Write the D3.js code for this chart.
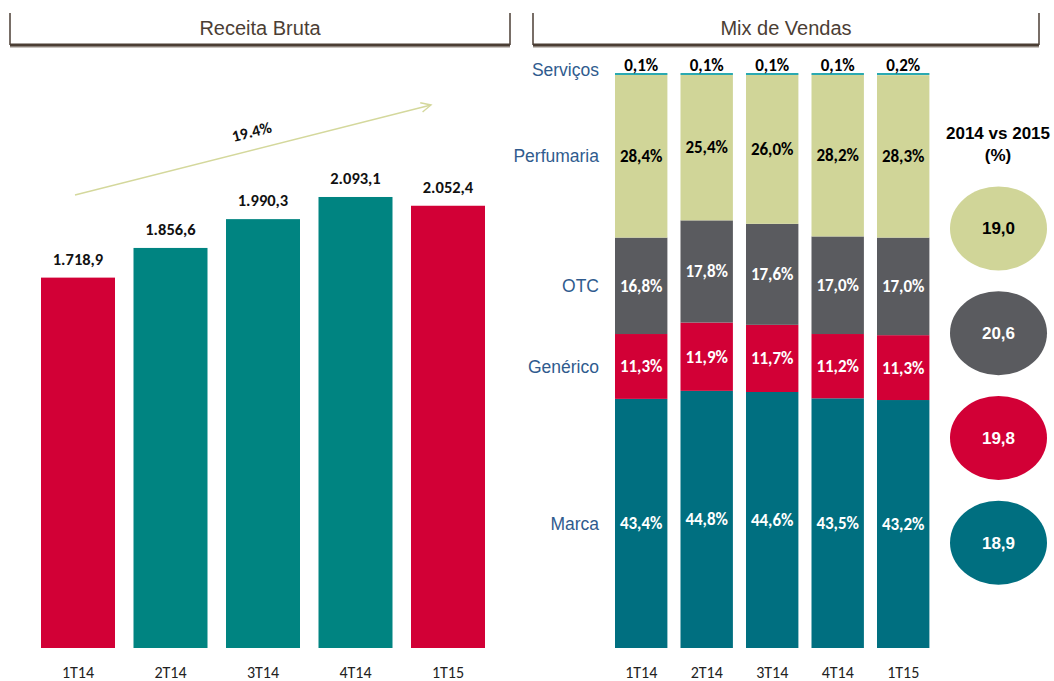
<!DOCTYPE html>
<html>
<head>
<meta charset="utf-8">
<script src="https://cdn.jsdelivr.net/npm/d3@7"></script>
<style>
  html, body { margin: 0; padding: 0; background: #ffffff; }
  svg { display: block; }
</style>
</head>
<body>
<svg id="chart" width="1054" height="681"></svg>
<script>
// ---------------- DATA ----------------
const quarters = ["1T14", "2T14", "3T14", "4T14", "1T15"];
const receitaBruta = [1718.9, 1856.6, 1990.3, 2093.1, 2052.4];
const highlightedQuarters = ["1T14", "1T15"];
const growthLabel = "19.4%";

const mixCategories = ["Marca", "Genérico", "OTC", "Perfumaria", "Serviços"];
const marca      = [43.4, 44.8, 44.6, 43.5, 43.2];
const generico   = [11.3, 11.9, 11.7, 11.2, 11.3];
const otc        = [16.8, 17.8, 17.6, 17.0, 17.0];
const perfumaria = [28.4, 25.4, 26.0, 28.2, 28.3];
const servicos   = [0.1, 0.1, 0.1, 0.1, 0.2];

const growthCategories = ["Perfumaria", "OTC", "Genérico", "Marca"];
const growthValues = [19.0, 20.6, 19.8, 18.9];

// ---------------- STYLE ----------------
const numFont = "Carlito, Calibri, Lato, sans-serif";
const txtFont = "Arial, 'Liberation Sans', sans-serif";
const headerColor = "#4b3e34";
const colors = {
  "Marca": "#006f80",
  "Genérico": "#d20036",
  "OTC": "#5a5b5f",
  "Perfumaria": "#d0d598",
  "Serviços": "#2aa9b1"
};
const labelColors = {
  "Marca": "#ffffff", "Genérico": "#ffffff", "OTC": "#ffffff",
  "Perfumaria": "#000000", "Serviços": "#000000"
};
const redBar = "#d20036", tealBar = "#008481";

const svg = d3.select("#chart");

// ---------------- HEADERS ----------------
function header(x0, x1, title) {
  const g = svg.append("g");
  g.append("line").attr("x1", x0).attr("x2", x1).attr("y1", 47).attr("y2", 47)
    .attr("stroke", "#b9b2ab").attr("stroke-width", 1.5);
  g.append("line").attr("x1", x0).attr("x2", x1).attr("y1", 45).attr("y2", 45)
    .attr("stroke", headerColor).attr("stroke-width", 3);
  [x0, x1].forEach(x => g.append("line").attr("x1", x).attr("x2", x)
    .attr("y1", 13).attr("y2", 45).attr("stroke", headerColor).attr("stroke-width", 1.5));
  g.append("text").attr("x", (x0 + x1) / 2).attr("y", 35)
    .attr("text-anchor", "middle").attr("font-family", txtFont)
    .attr("font-size", 20).attr("fill", headerColor).text(title);
}
header(10, 510, "Receita Bruta");
header(533, 1039, "Mix de Vendas");

// ---------------- LEFT: RECEITA BRUTA ----------------
const xL = d3.scaleBand().domain(quarters).range([22.5, 503.5])
  .paddingInner(0.2).paddingOuter(0.2);
const yL = d3.scaleLinear().domain([0, 2500]).range([648, 109.3]);

const left = svg.append("g");
const recData = quarters.map((q, i) => ({ q, v: receitaBruta[i] }));

left.selectAll("rect.bar").data(recData).join("rect")
  .attr("class", "bar")
  .attr("x", d => xL(d.q)).attr("width", xL.bandwidth())
  .attr("y", d => yL(d.v)).attr("height", d => yL(0) - yL(d.v))
  .attr("fill", d => highlightedQuarters.includes(d.q) ? redBar : tealBar);

left.selectAll("text.val").data(recData).join("text")
  .attr("class", "val")
  .attr("x", d => xL(d.q) + xL.bandwidth() / 2)
  .attr("y", d => yL(d.v) - 13)
  .attr("text-anchor", "middle").attr("font-family", numFont)
  .attr("font-weight", "bold").attr("font-size", 16.5).attr("fill", "#111")
  .text(d => d3.format(",.1f")(d.v).replace(/,/g, "#").replace(".", ",").replace(/#/g, "."));

const xAxisL = left.append("g").attr("transform", "translate(0,648)")
  .call(d3.axisBottom(xL).tickSize(0).tickPadding(19));
xAxisL.select(".domain").remove();
xAxisL.selectAll("text").attr("font-family", numFont).attr("font-size", 16).attr("fill", "#222");

// growth arrow
const arrowStart = [75, 195], arrowEnd = [431, 105];
left.append("line").attr("x1", arrowStart[0]).attr("y1", arrowStart[1])
  .attr("x2", arrowEnd[0]).attr("y2", arrowEnd[1])
  .attr("stroke", "#d4d89c").attr("stroke-width", 1.4);
{
  const ang = Math.atan2(arrowEnd[1] - arrowStart[1], arrowEnd[0] - arrowStart[0]);
  const L = 11, spread = 0.45;
  const p1 = [arrowEnd[0] - L * Math.cos(ang - spread), arrowEnd[1] - L * Math.sin(ang - spread)];
  const p2 = [arrowEnd[0] - L * Math.cos(ang + spread), arrowEnd[1] - L * Math.sin(ang + spread)];
  left.append("path").attr("d", `M${p1}L${arrowEnd}L${p2}`)
    .attr("fill", "none").attr("stroke", "#d4d89c").attr("stroke-width", 1.4);
  const deg = ang * 180 / Math.PI;
  left.append("text").attr("transform", `translate(253,137) rotate(${deg})`)
    .attr("text-anchor", "middle").attr("font-family", numFont)
    .attr("font-weight", "bold").attr("font-size", 16).attr("fill", "#111")
    .text(growthLabel);
}

// ---------------- RIGHT: MIX DE VENDAS ----------------
const xR = d3.scaleBand().domain(quarters).range([601.9, 942.5])
  .paddingInner(0.2).paddingOuter(0.2);
const yR = d3.scaleLinear().domain([0, 100]).range([648, 74]);

const mixSeries = { "Marca": marca, "Genérico": generico, "OTC": otc, "Perfumaria": perfumaria, "Serviços": servicos };
const table = quarters.map((q, i) => {
  const row = { q };
  mixCategories.forEach(c => row[c] = mixSeries[c][i]);
  return row;
});
const stacked = d3.stack().keys(mixCategories)(table);

const right = svg.append("g");
const layers = right.selectAll("g.layer").data(stacked).join("g").attr("class", "layer")
  .attr("fill", s => colors[s.key]);

layers.selectAll("rect").data(s => s.map(d => ({ key: s.key, d }))).join("rect")
  .attr("x", o => xR(o.d.data.q)).attr("width", xR.bandwidth())
  .attr("y", o => o.key === "Serviços" ? yR(o.d[1]) - 1 : yR(o.d[1]))
  .attr("height", o => o.key === "Serviços" ? Math.max(2, yR(o.d[0]) - yR(o.d[1])) : yR(o.d[0]) - yR(o.d[1]));

const fmtPct = v => v.toFixed(1).replace(".", ",") + "%";
layers.selectAll("text").data(s => s.map(d => ({ key: s.key, d }))).join("text")
  .attr("x", o => xR(o.d.data.q) + xR.bandwidth() / 2)
  .attr("y", o => o.key === "Serviços" ? yR(o.d[1]) - 3 : (yR(o.d[0]) + yR(o.d[1])) / 2)
  .attr("dy", o => o.key === "Serviços" ? 0 : "0.35em")
  .attr("text-anchor", "middle").attr("font-family", numFont)
  .attr("font-weight", "bold").attr("font-size", 17)
  .attr("fill", o => labelColors[o.key])
  .text(o => fmtPct(o.d.data[o.key]));

// category labels aligned to first column segments
right.selectAll("text.cat").data(stacked).join("text").attr("class", "cat")
  .attr("x", 599)
  .attr("y", s => s.key === "Serviços" ? yR(s[0][1]) + 2 : (yR(s[0][0]) + yR(s[0][1])) / 2)
  .attr("dy", s => s.key === "Serviços" ? 0 : "0.35em")
  .attr("text-anchor", "end").attr("font-family", txtFont).attr("font-size", 17.5)
  .attr("fill", "#2f5b8e").text(s => s.key);

const xAxisR = right.append("g").attr("transform", "translate(0,648)")
  .call(d3.axisBottom(xR).tickSize(0).tickPadding(19));
xAxisR.select(".domain").remove();
xAxisR.selectAll("text").attr("font-family", numFont).attr("font-size", 16).attr("fill", "#222");

// ---------------- GROWTH ELLIPSES ----------------
const yG = d3.scaleBand().domain(growthCategories).range([176, 595]);
const gG = svg.append("g");
gG.append("text").attr("x", 998).attr("y", 139).attr("text-anchor", "middle")
  .attr("font-family", txtFont).attr("font-weight", "bold").attr("font-size", 17)
  .attr("fill", "#000").text("2014 vs 2015");
gG.append("text").attr("x", 998).attr("y", 161).attr("text-anchor", "middle")
  .attr("font-family", txtFont).attr("font-weight", "bold").attr("font-size", 17)
  .attr("fill", "#000").text("(%)");
const gData = growthCategories.map((c, i) => ({ c, v: growthValues[i] }));
gG.selectAll("ellipse").data(gData).join("ellipse")
  .attr("cx", 998.5).attr("cy", d => yG(d.c) + yG.bandwidth() / 2)
  .attr("rx", 48.5).attr("ry", 42).attr("fill", d => colors[d.c]);
gG.selectAll("text.gv").data(gData).join("text").attr("class", "gv")
  .attr("x", 998.5).attr("y", d => yG(d.c) + yG.bandwidth() / 2).attr("dy", "0.36em")
  .attr("text-anchor", "middle").attr("font-family", txtFont).attr("font-weight", "bold")
  .attr("font-size", 17).attr("fill", d => labelColors[d.c])
  .text(d => d.v.toFixed(1).replace(".", ","));
</script>
</body>
</html>
